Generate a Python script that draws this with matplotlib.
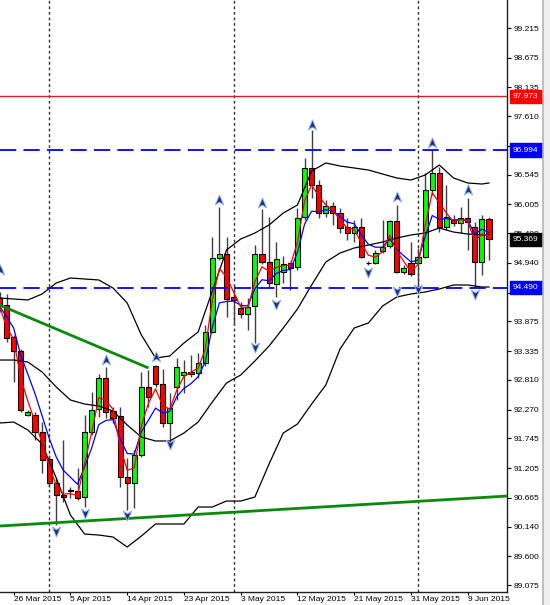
import numpy as np
import pandas as pd
import matplotlib
matplotlib.use("Agg")
import matplotlib.pyplot as plt
from matplotlib.path import Path
from matplotlib.lines import Line2D
from matplotlib.patches import Rectangle
import matplotlib.transforms as mtransforms

plt.rcParams['font.family'] = ['Liberation Sans', 'DejaVu Sans']

# daily bars, 24 Mar 2015 .. 12 Jun 2015 (Sunday bars included)
opens = [94.300, 94.172, 93.590, 93.335, 92.170, 92.170, 91.860, 91.369, 90.932, 90.714,
         90.805, 90.786, 90.677, 91.860, 92.279, 92.844, 92.243, 92.152, 91.041, 90.932,
         91.442, 92.680, 93.062, 92.734, 92.024, 92.680, 92.898, 92.953, 92.934, 93.117,
         93.681, 95.028, 95.101, 94.318, 94.118, 94.009, 94.154, 95.101, 94.955, 94.555,
         94.773, 94.937, 94.864, 95.775, 96.667, 96.357, 95.847, 95.975, 95.847, 95.592,
         95.483, 95.592, 94.937, 94.937, 95.156, 95.247, 95.702, 94.773, 94.937, 94.937,
         95.046, 96.266, 96.576, 95.592, 95.720, 95.665, 95.756, 95.592, 94.955, 95.738]
highs = [94.409, 94.373, 93.626, 93.371, 92.261, 92.225, 92.042, 91.442, 91.023, 91.715,
         90.859, 91.205, 92.170, 92.589, 92.916, 93.044, 92.316, 92.316, 91.387, 91.533,
         92.953, 92.989, 93.080, 93.007, 92.570, 93.208, 93.171, 93.262, 93.299, 93.808,
         95.410, 95.957, 95.410, 94.537, 94.227, 94.300, 95.265, 95.920, 95.775, 95.319,
         95.065, 94.955, 95.938, 96.849, 97.358, 96.448, 96.084, 96.048, 95.938, 95.756,
         95.720, 95.756, 94.973, 95.174, 95.720, 95.720, 95.993, 94.901, 95.319, 95.210,
         96.576, 96.994, 96.685, 96.357, 95.811, 95.957, 96.120, 95.683, 95.811, 95.775]
lows = [94.045, 93.499, 92.771, 92.225, 92.152, 91.715, 91.114, 90.859, 90.167, 90.586,
        90.659, 90.623, 90.495, 91.806, 92.134, 92.115, 92.024, 90.859, 90.440, 90.477,
        91.405, 92.316, 92.680, 91.951, 91.587, 92.443, 92.570, 92.862, 92.844, 93.062,
        93.663, 94.992, 93.954, 93.808, 93.936, 93.717, 93.481, 94.919, 94.500, 94.318,
        94.573, 94.446, 94.810, 95.720, 96.120, 95.756, 95.775, 95.629, 95.483, 95.356,
        95.319, 95.028, 94.901, 94.919, 95.119, 95.210, 94.755, 94.737, 94.700, 94.500,
        95.028, 96.175, 95.501, 95.538, 95.611, 95.483, 95.174, 94.490, 94.719, 94.992]
closes = [94.154, 93.572, 93.335, 92.261, 92.225, 91.860, 91.351, 90.932, 90.714, 90.677,
          90.786, 90.659, 91.860, 92.261, 92.844, 92.225, 92.115, 91.041, 90.932, 91.442,
          92.680, 92.498, 92.734, 92.024, 92.297, 93.044, 92.953, 92.916, 93.117, 93.681,
          95.028, 95.101, 94.282, 94.264, 94.009, 94.136, 95.101, 94.955, 94.573, 95.010,
          94.919, 94.846, 95.756, 96.667, 96.357, 95.847, 95.975, 95.847, 95.574, 95.483,
          95.592, 95.046, 94.930, 95.119, 95.228, 95.702, 94.773, 94.846, 94.737, 95.046,
          96.266, 96.576, 95.592, 95.775, 95.665, 95.756, 95.683, 94.955, 95.738, 95.369]

# bollinger bands (every second bar + last bar)
band_bars = list(range(0, 70, 2)) + [69]
bb_upper = [94.300, 94.282, 94.264, 94.373, 94.573, 94.664, 94.646, 94.628, 94.482, 94.209,
            93.626, 93.208, 93.244, 93.481, 93.681, 94.427, 95.174, 95.374, 95.483, 95.629,
            95.847, 95.993, 96.612, 96.758, 96.703, 96.667, 96.630, 96.557, 96.485, 96.448,
            96.539, 96.721, 96.485, 96.394, 96.375, 96.394]
bb_middle = [93.171, 93.171, 93.135, 92.953, 92.680, 92.443, 92.370, 92.334, 92.243, 91.988,
             91.769, 91.697, 91.697, 91.842, 92.042, 92.407, 92.753, 92.898, 93.153, 93.426,
             93.754, 94.100, 94.537, 94.955, 95.119, 95.210, 95.265, 95.319, 95.392, 95.447,
             95.483, 95.574, 95.501, 95.465, 95.447, 95.447]
bb_lower = [92.024, 92.042, 91.897, 91.642, 91.023, 90.349, 90.003, 89.985, 89.949, 89.767,
            89.967, 90.186, 90.186, 90.186, 90.495, 90.495, 90.604, 90.604, 90.677, 91.278,
            91.842, 92.006, 92.370, 92.716, 93.371, 93.754, 93.845, 94.154, 94.318, 94.373,
            94.409, 94.464, 94.537, 94.537, 94.500, 94.500]

# fractal arrows
up_fractal_bars = [0, 15, 22, 31, 37, 44, 56, 61, 66]
up_fractal_prices = [94.810, 93.171, 93.226, 96.084, 96.029, 97.449, 96.139, 97.122, 96.266]
dn_fractal_bars = [8, 12, 18, 24, 36, 39, 52, 56, 59, 67]
dn_fractal_prices = [90.058, 90.386, 90.349, 91.642, 93.408, 94.191, 94.773, 94.427, 94.464, 94.373]

# drawn objects
red_level = 97.973
blue_levels = [96.994, 94.490]
last_price = 95.369
trend1_bars = [0.0, 21.0]
trend1_prices = [94.172, 93.026]
trend2_bars = [0.0, 71.6]
trend2_prices = [90.149, 90.695]

month_bars = [7, 33, 59]
tick_bars = [2, 10, 18, 26, 34, 42, 50, 58, 66]
tick_labels = ['26 Mar 2015', '5 Apr 2015', '14 Apr 2015', '23 Apr 2015', '3 May 2015',
               '12 May 2015', '21 May 2015', '31 May 2015', '9 Jun 2015']
price_ticks = [99.215, 98.675, 98.135, 97.610, 97.070, 96.545, 96.005, 95.480, 94.940,
               94.400, 93.875, 93.335, 92.810, 92.270, 91.745, 91.205, 90.665, 90.140,
               89.600, 89.075]

# moving averages of the closes (red LWMA 3, blue EMA 5)
def lwma(vals, n):
    out = []
    for k in range(len(vals)):
        w = np.array(vals[max(0, k - n + 1):k + 1])
        wt = np.arange(1, len(w) + 1)
        out.append(np.dot(w, wt) / wt.sum())
    return out

red_ma = lwma(closes, 3)
blue_ma = pd.Series(closes).ewm(span=5, adjust=False).mean().values

fig = plt.figure(figsize=(5.5, 6.05), dpi=100)
ax = fig.add_axes([0, 13 / 605, 507 / 550, 592 / 605])
ax.set_xlim(0.07, 71.54)
ax.set_ylim(88.948, 99.725)

bars = np.arange(len(closes))

# month separators
for b in month_bars:
    ax.axvline(b, color='#303030', lw=1, ls=(0, (2, 2)), zorder=1)

# candles
for i in bars:
    o, h, l, c = opens[i], highs[i], lows[i], closes[i]
    ax.vlines(i, l, h, color='#404040', lw=1, zorder=2)
    col = 'lime' if c >= o else 'red'
    ax.bar(i, max(abs(c - o), 0.012), bottom=min(o, c), width=0.72,
           color=col, edgecolor='black', lw=0.8, zorder=2.5)

# indicators
ax.plot(band_bars, bb_upper, color='black', lw=0.9, zorder=3)
ax.plot(band_bars, bb_middle, color='black', lw=0.9, zorder=3)
ax.plot(band_bars, bb_lower, color='black', lw=0.9, zorder=3)
ax.plot(bars, blue_ma, color='blue', lw=0.9, zorder=3)
ax.plot(bars, red_ma, color='red', lw=0.9, zorder=3)

# trend lines
ax.plot(trend1_bars, trend1_prices, color='#0a8a0a', lw=2.0, zorder=4, solid_capstyle='butt')
ax.plot(trend2_bars, trend2_prices, color='#0a8a0a', lw=2.0, zorder=4, solid_capstyle='butt')

# horizontal levels
ax.axhline(red_level, color='#e02020', lw=1, zorder=4)
for lv in blue_levels:
    ax.axhline(lv, color='blue', lw=1.3, ls=(0, (9, 4)), zorder=4)

# fractal arrows
up_path = Path([(0, 1), (0.75, -0.8), (0, -0.3), (-0.75, -0.8), (0, 1)],
               [Path.MOVETO, Path.LINETO, Path.LINETO, Path.LINETO, Path.CLOSEPOLY])
dn_path = Path([(0, -1), (0.75, 0.8), (0, 0.3), (-0.75, 0.8), (0, -1)],
               [Path.MOVETO, Path.LINETO, Path.LINETO, Path.LINETO, Path.CLOSEPOLY])
ax.plot(up_fractal_bars, up_fractal_prices, ls='none', marker=up_path, ms=8,
        mfc='#1f2d7a', mec='#8fb4ee', mew=0.7, zorder=5)
ax.plot(dn_fractal_bars, dn_fractal_prices, ls='none', marker=dn_path, ms=8,
        mfc='#1f2d7a', mec='#8fb4ee', mew=0.7, zorder=5)

# axes styling
for s in ['left', 'top']:
    ax.spines[s].set_visible(False)
for s in ['right', 'bottom']:
    ax.spines[s].set_color('#202020')
    ax.spines[s].set_linewidth(1)

ax.yaxis.tick_right()
ax.set_yticks(price_ticks)
ax.set_yticklabels(['%.3f' % p for p in price_ticks])
ax.tick_params(axis='y', length=3, width=0.8, pad=1.5, labelsize=6, colors='black')
ax.set_xticks(tick_bars)
ax.set_xticklabels(tick_labels)
for lab in ax.get_xticklabels():
    lab.set_horizontalalignment('left')
ax.tick_params(axis='x', length=2, width=0.8, pad=1, labelsize=6)

# price boxes on the scale
trans = mtransforms.blended_transform_factory(ax.transAxes, ax.transData)
boxes = [(red_level, '#ff0000'), (blue_levels[0], '#0000ff'),
         (last_price, '#000000'), (blue_levels[1], '#0000ff')]
for val, fc in boxes:
    ax.text(1.012, val, '%.3f' % val, transform=trans, ha='left', va='center',
            fontsize=6, color='white', clip_on=False, zorder=10,
            bbox=dict(boxstyle='square,pad=0.38', fc=fc, ec=fc))

# clipped top label
fig.text(512 / 550, 1 + 1 / 605, '99.745', fontsize=6, ha='left', va='center')

# right-hand window edge
fig.add_artist(Rectangle((543.5 / 550, 0), 6.5 / 550, 1, transform=fig.transFigure,
                         color='#eeeeee', zorder=0))
fig.add_artist(Line2D([543 / 550] * 2, [0, 1], transform=fig.transFigure,
                      color='#b4b4b4', lw=1.2))

fig.savefig('out.png', dpi=100)
